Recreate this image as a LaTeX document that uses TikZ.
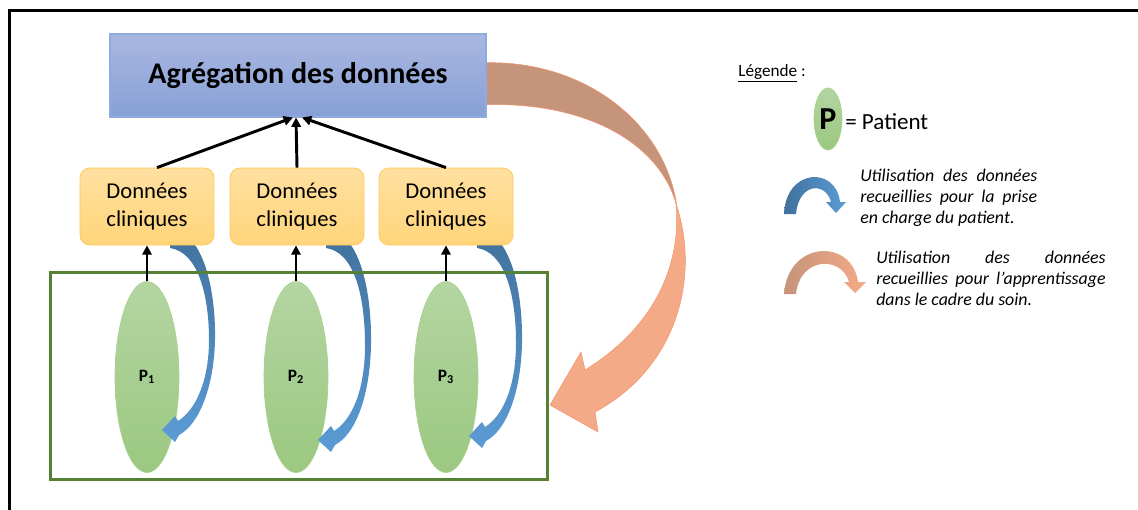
\documentclass[tikz,border=0pt]{standalone}
\usepackage{fontspec}
\setmainfont{Carlito}
\usetikzlibrary{arrows.meta,calc,shapes.geometric}
\definecolor{aggtop}{RGB}{169,183,225}
\definecolor{aggbot}{RGB}{135,160,214}
\definecolor{aggline}{RGB}{143,170,220}
\definecolor{dtop}{RGB}{255,224,160}
\definecolor{dbot}{RGB}{255,213,122}
\definecolor{dline}{RGB}{255,200,90}
\definecolor{etop}{RGB}{180,213,162}
\definecolor{ebot}{RGB}{155,200,128}
\definecolor{eline}{RGB}{170,210,145}
\definecolor{frgreen}{RGB}{84,130,53}
\definecolor{bdark}{RGB}{65,113,156}
\definecolor{blight}{RGB}{91,155,213}
\definecolor{obrown}{RGB}{198,147,123}
\definecolor{osalmon}{RGB}{244,170,134}
\definecolor{oline}{RGB}{240,150,110}
\newcommand\bluearr[2]{%
\path[bluegrad] (#1+170,230) .. controls (#1+203,230) and (#1+216,290) .. (#1+215,340+#2*0.5)
 .. controls (#1+214,385+#2) and (#1+200,424+#2) .. (#1+179,435+#2)
 -- (#1+175,442+#2) -- (#1+162,430+#2) -- (#1+175,416+#2) -- (#1+178,421+#2)
 .. controls (#1+196,410+#2) and (#1+209,380+#2) .. (#1+209,340+#2*0.5)
 .. controls (#1+209,295) and (#1+198,252) .. (#1+170,248) -- cycle;}
\begin{document}
\begin{tikzpicture}[x=0.75pt,y=-0.75pt,
  aggbox/.style={rectangle, top color=aggtop, bottom color=aggbot, draw=aggline, line width=0.8pt,
    minimum width=282pt, minimum height=62.25pt, inner sep=0, font=\fontsize{22.5}{27}\selectfont\bfseries},
  donnees/.style={rectangle, rounded corners=7.5pt, top color=dtop, bottom color=dbot, draw=dline, line width=0.6pt,
    minimum width=100.5pt, minimum height=57.75pt, inner sep=0, align=center, font=\fontsize{17}{20.5}\selectfont},
  pat/.style={ellipse, top color=etop, bottom color=ebot, draw=eline, line width=0.5pt,
    minimum width=48pt, minimum height=143.25pt, inner sep=0, font=\fontsize{13}{15}\selectfont\bfseries},
  grpframe/.style={rectangle, draw=frgreen, line width=2.25pt, minimum width=372.75pt, minimum height=155.25pt, inner sep=0},
  blk/.style={line width=2.2pt, -{Triangle[length=7pt,width=7pt]}},
  bluegrad/.style={top color=bdark, bottom color=blight},
  legtxt/.style={inner sep=0, anchor=north west, align=left, font=\fontsize{13.4}{15.5}\selectfont\itshape}
]
\useasboundingbox (0,0) rectangle (1138,510);
\fill[white] (0,0) rectangle (1138,510);
\draw[line width=1.9pt] (9.5,510) -- (9.5,10.5) -- (1138,10.5);

% patients
\node[pat] (p1) at (147,377) {P\textsubscript{1}};
\node[pat] (p2) at (296,377) {P\textsubscript{2}};
\node[pat] (p3) at (446,377) {P\textsubscript{3}};

% blue curved arrows
\bluearr{0}{0}
\bluearr{156}{10}
\bluearr{307}{6}

% clinical data boxes
\node[donnees] (d1) at (147,206.5) {Données\\cliniques};
\node[donnees] (d2) at (297,206.5) {Données\\cliniques};
\node[donnees] (d3) at (446,206.5) {Données\\cliniques};

% group frame
\node[grpframe] (grp) at (298.5,375.5) {};

% big orange arrow
\path[fill=obrown, draw=oline, line width=0.4pt] (480,63) .. controls (580,58) and (665,120) .. (677,207)
  .. controls (660,140) and (580,100) .. (480,105) -- cycle;
\path[fill=osalmon, draw=oline, line width=0.4pt] (676,204) .. controls (699,270) and (682,365) .. (595,412)
  -- (598,432) -- (550,405) -- (581,352) -- (585,370)
  .. controls (650,330) and (682,270) .. (676,204) -- cycle;

% aggregation
\node[aggbox] (agg) at (298,75.5) {Agrégation des données};

% black arrows
\draw[blk] (p1.north) -- (d1.south);
\draw[blk] (p2.north) -- (p2.north |- d2.south);
\draw[blk] (p3.north) -- (d3.south);
\draw[blk] ($(d1.north)+(10,0)$) -- ($(agg.south)+(-5,0)$);
\draw[blk] (d2.north) -- ($(agg.south)+(-2,0)$);
\draw[blk] (d3.north) -- ($(agg.south)+(4,0)$);

% legend
\node[inner sep=0, anchor=west, font=\fontsize{12.9}{15}\selectfont] (leg) at (738,73) {\underline{Légende} :};
\node[ellipse, top color=etop, bottom color=ebot, draw=eline, line width=0.5pt, minimum width=21pt, minimum height=46.5pt, inner sep=0,
  font=\fontsize{24}{28}\selectfont\bfseries] (lp) at (828,119) {P};
\node[inner sep=0, anchor=west, font=\fontsize{17.3}{20}\selectfont] (lpt) at (845,122) {= Patient};

\path[left color=bdark, right color=blight] (784,214) .. controls (786,168) and (836,166) .. (840,202)
  -- (846,202) -- (836,213) -- (826,202) -- (831,202) .. controls (826,182) and (799,182) .. (796,214) -- cycle;
\node[legtxt] (lt1) at (860,169) {\makebox[132.75pt][s]{Utilisation des données}\\\makebox[132.75pt][s]{recueillies pour la prise}\\en charge du patient.};

\path[left color=obrown, right color=osalmon] (784,294) .. controls (788,240) and (852,238) .. (858,282)
  -- (866,282) -- (855,293) -- (844,282) -- (849,282) .. controls (842,256) and (800,256) .. (796,294) -- cycle;
\node[legtxt] (lt2) at (876,251) {\makebox[172pt][s]{Utilisation des données}\\\makebox[172pt][s]{recueillies pour l’apprentissage}\\dans le cadre du soin.};
\end{tikzpicture}
\end{document}
